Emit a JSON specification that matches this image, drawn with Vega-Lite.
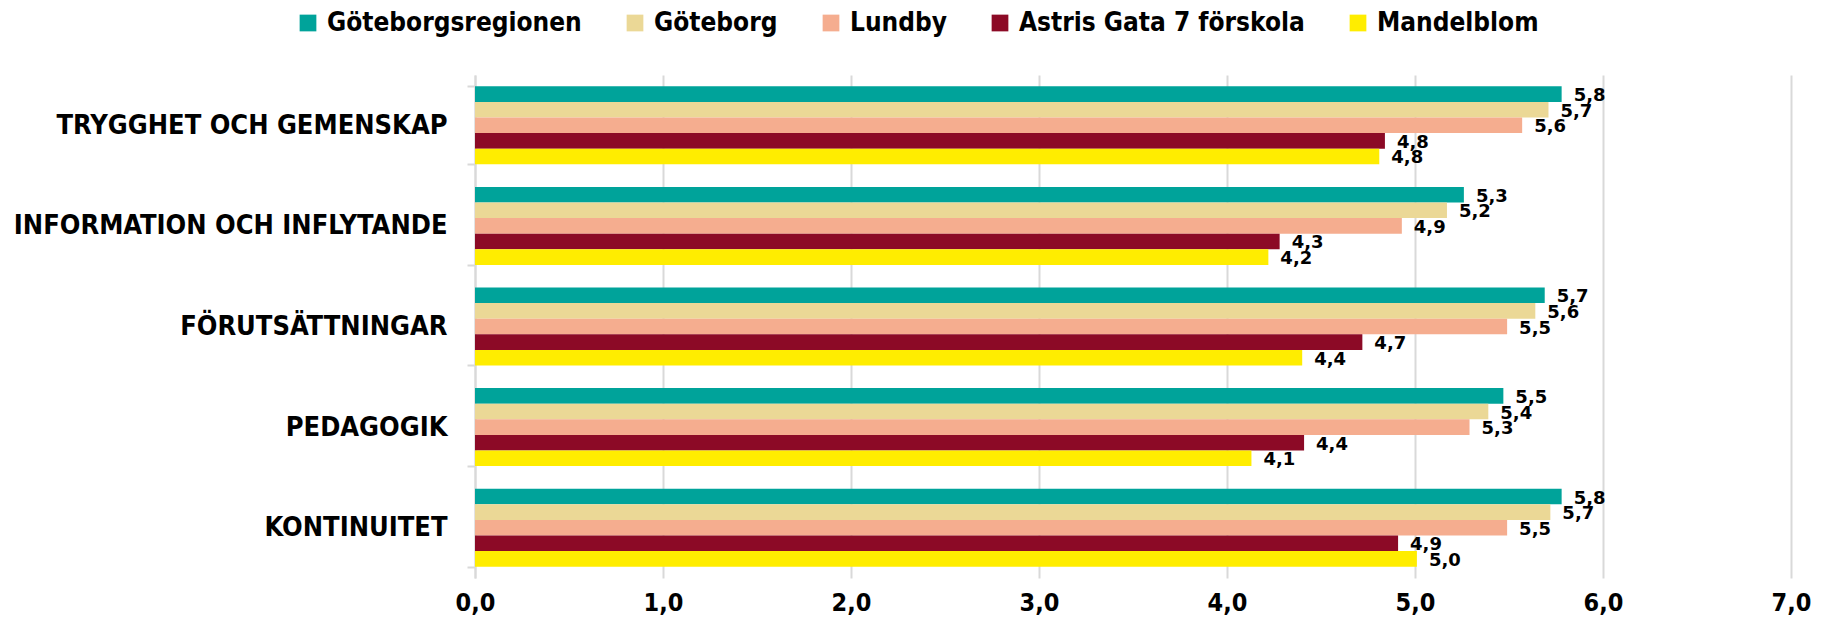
{
  "$schema": "https://vega.github.io/schema/vega-lite/v6.json",
  "width": 1316,
  "height": 503,
  "autosize": {"type": "none"},
  "padding": {"left": 475, "top": 75, "right": 36, "bottom": 42},
  "background": "white",
  "config": {
    "view": {"stroke": null},
    "locale": {"number": {"decimal": ",", "thousands": " ", "grouping": [3], "currency": ["", " kr"]}}
  },
  "data": {"values": [
    {"omrade": "TRYGGHET OCH GEMENSKAP", "serie": "Göteborgsregionen", "varde": 5.78},
    {"omrade": "TRYGGHET OCH GEMENSKAP", "serie": "Göteborg", "varde": 5.71},
    {"omrade": "TRYGGHET OCH GEMENSKAP", "serie": "Lundby", "varde": 5.57},
    {"omrade": "TRYGGHET OCH GEMENSKAP", "serie": "Astris Gata 7 förskola", "varde": 4.84},
    {"omrade": "TRYGGHET OCH GEMENSKAP", "serie": "Mandelblom", "varde": 4.81},
    {"omrade": "INFORMATION OCH INFLYTANDE", "serie": "Göteborgsregionen", "varde": 5.26},
    {"omrade": "INFORMATION OCH INFLYTANDE", "serie": "Göteborg", "varde": 5.17},
    {"omrade": "INFORMATION OCH INFLYTANDE", "serie": "Lundby", "varde": 4.93},
    {"omrade": "INFORMATION OCH INFLYTANDE", "serie": "Astris Gata 7 förskola", "varde": 4.28},
    {"omrade": "INFORMATION OCH INFLYTANDE", "serie": "Mandelblom", "varde": 4.22},
    {"omrade": "FÖRUTSÄTTNINGAR", "serie": "Göteborgsregionen", "varde": 5.69},
    {"omrade": "FÖRUTSÄTTNINGAR", "serie": "Göteborg", "varde": 5.64},
    {"omrade": "FÖRUTSÄTTNINGAR", "serie": "Lundby", "varde": 5.49},
    {"omrade": "FÖRUTSÄTTNINGAR", "serie": "Astris Gata 7 förskola", "varde": 4.72},
    {"omrade": "FÖRUTSÄTTNINGAR", "serie": "Mandelblom", "varde": 4.4},
    {"omrade": "PEDAGOGIK", "serie": "Göteborgsregionen", "varde": 5.47},
    {"omrade": "PEDAGOGIK", "serie": "Göteborg", "varde": 5.39},
    {"omrade": "PEDAGOGIK", "serie": "Lundby", "varde": 5.29},
    {"omrade": "PEDAGOGIK", "serie": "Astris Gata 7 förskola", "varde": 4.41},
    {"omrade": "PEDAGOGIK", "serie": "Mandelblom", "varde": 4.13},
    {"omrade": "KONTINUITET", "serie": "Göteborgsregionen", "varde": 5.78},
    {"omrade": "KONTINUITET", "serie": "Göteborg", "varde": 5.72},
    {"omrade": "KONTINUITET", "serie": "Lundby", "varde": 5.49},
    {"omrade": "KONTINUITET", "serie": "Astris Gata 7 förskola", "varde": 4.91},
    {"omrade": "KONTINUITET", "serie": "Mandelblom", "varde": 5.01}
  ]},
  "encoding": {
    "y": {
      "field": "omrade", "type": "nominal", "sort": null,
      "scale": {"paddingInner": 0.225, "paddingOuter": 0.1125},
      "axis": {
        "title": null, "labelFont": "DejaVu Sans Condensed", "labelFontWeight": "bold",
        "labelFontSize": 27, "labelColor": "#000000", "labelPadding": 20,
        "tickBand": "extent", "tickColor": "#d9d9d9", "tickSize": 8, "tickWidth": 2,
        "domainColor": "#d9d9d9", "domainWidth": 2, "labelLimit": 500
      }
    },
    "yOffset": {"field": "serie", "type": "nominal", "sort": ["Göteborgsregionen", "Göteborg", "Lundby", "Astris Gata 7 förskola", "Mandelblom"], "scale": {"paddingInner": 0}},
    "x": {
      "field": "varde", "type": "quantitative",
      "scale": {"domain": [0, 7]},
      "axis": {
        "title": null, "tickCount": 7, "format": ".1f", "domain": false, "ticks": false,
        "gridColor": "#d9d9d9", "gridWidth": 2, "labelFlush": false,
        "labelFont": "DejaVu Sans Condensed", "labelFontWeight": "bold", "labelFontSize": 25,
        "labelColor": "#000000", "labelPadding": 12
      }
    }
  },
  "layer": [
    {
      "mark": {"type": "bar"},
      "encoding": {
        "color": {
          "field": "serie", "type": "nominal",
          "scale": {
            "domain": ["Göteborgsregionen", "Göteborg", "Lundby", "Astris Gata 7 förskola", "Mandelblom"],
            "range": ["#00A39A", "#EBD896", "#F5AD8F", "#8C0A26", "#FFED00"]
          },
          "legend": {
            "title": null, "orient": "none", "direction": "horizontal", "legendX": -180, "legendY": -65,
            "symbolType": "square", "symbolSize": 280, "symbolStrokeWidth": 0, "labelOffset": 6,
            "labelFont": "DejaVu Sans Condensed", "labelFontWeight": "bold", "labelFontSize": 26,
            "labelColor": "#000000", "columnPadding": 40, "labelLimit": 400
          }
        }
      }
    },
    {
      "mark": {"type": "text", "align": "left", "baseline": "middle", "dx": 12, "dy": 2, "font": "DejaVu Sans", "fontWeight": "bold", "fontSize": 18, "color": "#000000"},
      "encoding": {
        "text": {"field": "varde", "type": "quantitative", "format": ".1f"}
      }
    }
  ]
}
